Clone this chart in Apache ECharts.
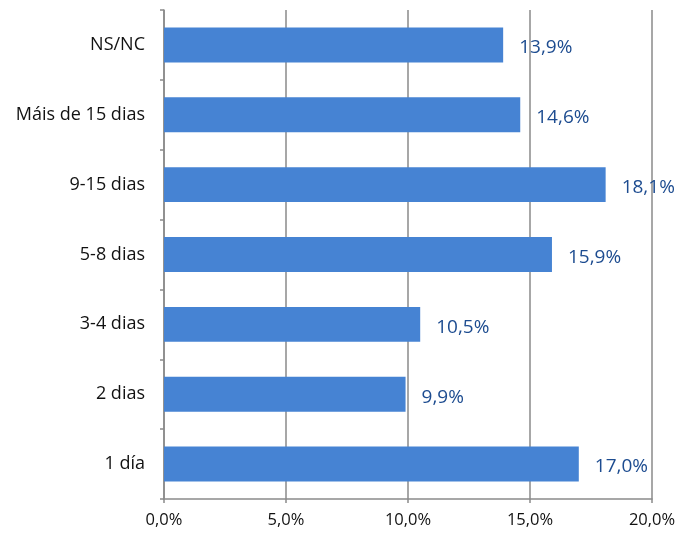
<!DOCTYPE html>
<html>
<head>
<meta charset="utf-8">
<script src="https://cdn.jsdelivr.net/npm/echarts@6/dist/echarts.min.js"></script>
<style>html,body{margin:0;padding:0;background:#fff}#c{width:682px;height:538px}</style>
</head>
<body>
<div id="c"></div>
<script>
const categories = ['1 día', '2 dias', '3-4 dias', '5-8 dias', '9-15 dias', 'Máis de 15 dias', 'NS/NC'];
const values = [17.0, 9.9, 10.5, 15.9, 18.1, 14.6, 13.9];
const axisMin = 0, axisMax = 20, axisStep = 5;

const fmt = v => v.toFixed(1).replace('.', ',') + '%';
const font = '"Open Sans", Lato, sans-serif';
const gray = '#8a8a8a';

const chart = echarts.init(document.getElementById('c'));
chart.setOption({
  animation: false,
  grid: { left: 164, right: 30, top: 10, bottom: 39, containLabel: false },
  xAxis: {
    type: 'value', min: axisMin, max: axisMax, interval: axisStep,
    axisLine: { show: true, lineStyle: { color: gray, width: 1.5 } },
    axisTick: { show: true, length: 4, lineStyle: { color: gray, width: 1.5 } },
    splitLine: { show: true, lineStyle: { color: gray, width: 1.5 } },
    axisLabel: { formatter: v => fmt(v), color: '#111', fontSize: 16.5, fontFamily: font, margin: 13 }
  },
  yAxis: {
    type: 'category', data: categories,
    axisLine: { show: true, lineStyle: { color: gray, width: 1.5 } },
    axisTick: { show: true, length: 4, alignWithLabel: false, lineStyle: { color: gray, width: 1.5 } },
    axisLabel: { color: '#111', fontSize: 18, fontFamily: font, margin: 19 }
  },
  series: [{
    type: 'bar', data: values, barWidth: '50%',
    itemStyle: { color: '#4683d3' },
    label: {
      show: true, position: 'right', distance: 16, offset: [0, 3],
      formatter: p => fmt(p.value), color: '#1d4c90', fontSize: 19, fontFamily: font
    }
  }]
});
</script>
</body>
</html>
